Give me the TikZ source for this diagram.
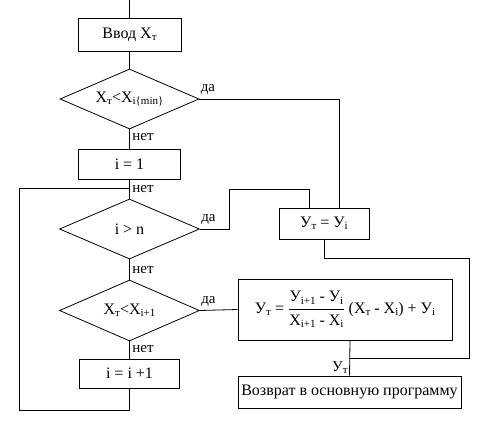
\documentclass[tikz,border=0pt]{standalone}
\usepackage{fontspec}
\setmainfont{Liberation Serif}
\usetikzlibrary{shapes.geometric}

\newcommand{\lo}[1]{\raisebox{-0.3ex}{\fontsize{11}{12}\selectfont #1}}

\tikzset{
  block/.style={draw, rectangle, inner sep=0pt, align=center},
  cond/.style={draw, diamond, aspect=2.3, inner sep=0pt},
  tag/.style={inner sep=1pt, font=\fontsize{15}{17}\selectfont}
}

\begin{document}
\begin{tikzpicture}[x=1pt, y=-1pt, line width=0.8pt, font=\fontsize{16}{19}\selectfont]
        % Frame
        \useasboundingbox (0,0) rectangle (489,425);

        % Blocks
        \node[block, minimum width=103pt, minimum height=33pt] (input) at (129.5,34.5) {Ввод X\lo{т}};
        \node[cond, minimum width=139pt, minimum height=60pt] (dmin) at (129.5,99) {X\lo{т}<X\lo{i\{min\}}};
        \node[block, minimum width=102pt, minimum height=30pt] (one) at (129.5,164) {i = 1};
        \node[cond, minimum width=140pt, minimum height=60pt] (dn) at (129.5,229) {i > n};
        \node[cond, minimum width=140pt, minimum height=61pt] (dnext) at (129.5,310.5) {X\lo{т}<X\lo{i+1}};
        \node[block, minimum width=100pt, minimum height=29pt] (inc) at (129.5,373.5) {i = i +1};
        \node[block, minimum width=90pt, minimum height=31pt] (yeq) at (324,223.5) {У\lo{т} = У\lo{i}};
        \node[block, minimum width=214pt, minimum height=61pt] (interp) at (345,309.5)
          {У\lo{т} = $\displaystyle\frac{\mbox{У\lo{i+1} - У\lo{i}}}{\mbox{X\lo{i+1} - X\lo{i}}}$ (X\lo{т} - X\lo{i}) + У\lo{i}};
        \node[block, minimum width=223pt, minimum height=32pt] (ret) at (349.5,392) {Возврат в основную программу};

        % Junctions
        \coordinate (join) at (129.5,188);
        \coordinate (merge) at (350,358);

        % Main line
        \draw (129.5,0) -- (input.north);
        \draw (input.south) -- (dmin.north);
        \draw (dmin.south) -- (one.north);
        \draw (one.south) -- (join) -- (dn.north);
        \draw (dn.south) -- (dnext.north);
        \draw (dnext.south) -- (inc.north);

        % Loop back
        \draw (inc.south) -- (129.5,410) -- (19,410) -- (19,188) -- (join);

        % Yes branches
        \draw (dmin.east) -| ([xshift=15pt]yeq.north);
        \draw (dn.east) -- (229,229) -- (229,189) -| ([xshift=-15pt]yeq.north);
        \draw (dnext.east) -- (interp.west);

        % Outputs
        \draw (yeq.south) -- (324,258) -- (469,258) -- (469,358) -- (merge);
        \draw (merge |- interp.south) -- (ret.north);

        % Labels
        \node[tag, anchor=south west] at ([yshift=3pt]dmin.east) {да};
        \node[tag, anchor=south west] at ([yshift=3pt]dn.east) {да};
        \node[tag, anchor=south west] at ([yshift=3pt]dnext.east) {да};
        \node[tag, anchor=west] at (131,137) {нет};
        \node[tag, anchor=west] at (131,189) {нет};
        \node[tag, anchor=west] at (131,270) {нет};
        \node[tag, anchor=west] at (131,349) {нет};
        \node[tag, anchor=east] at (349,368) {У\lo{т}};
\end{tikzpicture}
\end{document}
